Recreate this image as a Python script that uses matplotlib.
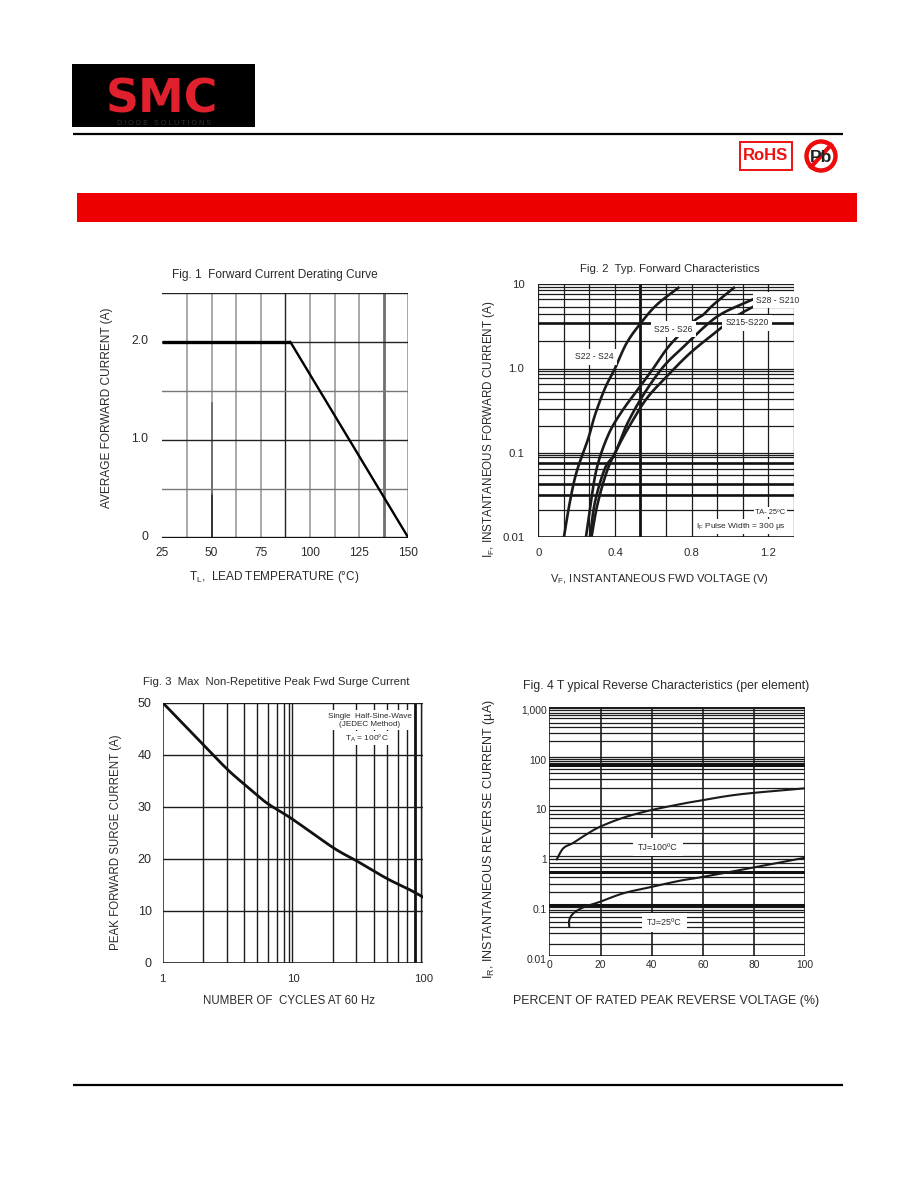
import numpy as np
import matplotlib
matplotlib.use("Agg")
import matplotlib.pyplot as plt
from matplotlib.patches import Rectangle, Circle
from matplotlib.transforms import ScaledTranslation
import logging
logging.getLogger('matplotlib.font_manager').setLevel(logging.ERROR)

plt.rcParams['font.family'] = ['Liberation Sans', 'DejaVu Sans']
plt.rcParams['mathtext.fontset'] = 'custom'
plt.rcParams['mathtext.rm'] = 'Liberation Sans'
plt.rcParams['mathtext.default'] = 'regular'

W, H = 918, 1188
INK = '#2a2a2a'

# ---- Fig 1 data
f1_temp = [25, 90, 150]
f1_current = [2.0, 2.0, 0.0]
f1_xticks = [25, 50, 75, 100, 125, 150]
f1_xlabels = ['25', '50', '75', '100', '125', '150']
f1_yticks = [0, 1.0, 2.0]
f1_ylabels = ['0', '1.0', '2.0']
f1_vgrid_gray = [37.5, 50, 62.5, 75, 100, 112.5, 125, 150]
f1_vgrid_dark = [87.5]
f1_hgrid_dark = [1.0, 2.0, 2.5]
f1_hgrid_gray = [0.5, 1.5]

# ---- Fig 2 data
f2_v_a = [0.134, 0.165, 0.200, 0.261, 0.296, 0.348, 0.400, 0.461, 0.534, 0.618, 0.731]
f2_i_a = [0.01, 0.026, 0.059, 0.148, 0.28, 0.58, 1.0, 2.0, 3.44, 5.7, 9.1]
f2_v_b = [0.249, 0.270, 0.305, 0.365, 0.435, 0.531, 0.600, 0.687, 0.809, 0.860, 0.913, 1.021]
f2_i_b = [0.01, 0.0217, 0.065, 0.162, 0.306, 0.61, 1.0, 1.9, 3.6, 4.33, 5.7, 9.1]
f2_v_c = [0.270, 0.296, 0.348, 0.400, 0.461, 0.548, 0.653, 0.757, 0.879, 0.964, 1.105, 1.192]
f2_i_c = [0.01, 0.026, 0.065, 0.0975, 0.213, 0.484, 1.05, 1.8, 3.3, 4.56, 6.4, 7.8]
f2_v_d = [0.278, 0.308, 0.357, 0.412, 0.479, 0.566, 0.670, 0.792, 0.931, 1.035, 1.192, 1.33]
f2_i_d = [0.01, 0.0238, 0.059, 0.112, 0.213, 0.44, 0.80, 1.52, 2.75, 4.2, 6.4, 7.7]
f2_xticks = [0, 0.4, 0.8, 1.2]
f2_yticks = [0.01, 0.1, 1.0, 10]
f2_ylabels = ['0.01', '0.1', '1.0', '10']
f2_vgrid = [0, 0.133, 0.267, 0.4, 0.667, 0.8, 0.933, 1.067, 1.2, 1.333]
f2_vgrid_thick = [0.533]
f2_hgrid = [0.021, 0.0541, 0.0642, 0.0882, 0.094, 0.098,
            0.208, 0.33, 0.43, 0.53, 0.65, 0.76, 0.85, 0.925, 0.975,
            2.1, 4.4, 5.42, 6.63, 7.6, 8.55, 9.36, 10]
f2_hgrid_thick = [0.0315, 0.0428, 0.0758, 3.5]

# ---- Fig 3 data
f3_cycles = [1, 2.05, 3.13, 4.23, 5.32, 6.47, 9.9, 20.4, 30.7, 52.4, 75, 100]
f3_current = [50, 41.9, 37.2, 34.3, 32.2, 30.5, 27.6, 22.1, 19.6, 16.2, 14.3, 12.6]
f3_xticks = [1, 10, 100]
f3_xlabels = ['1', '10', '100']
f3_yticks = [0, 10, 20, 30, 40, 50]
f3_vgrid = [2.05, 3.13, 4.23, 5.32, 6.47, 7.52, 8.6, 9.35, 9.9,
            20.4, 30.7, 41.8, 52.4, 63.4, 75, 96, 100]
f3_vgrid_thick = [86]
f3_hgrid = [10, 20, 30, 40, 50]

# ---- Fig 4 data
f4_pct_hot = [2.9, 5.5, 9.4, 14.6, 19.9, 28.9, 39, 51, 58.9, 74.5, 100]
f4_ir_hot = [0.86, 1.44, 1.85, 2.75, 3.9, 5.9, 8.2, 11, 13, 17.4, 23]
f4_pct_cold = [7.8, 7.8, 9.4, 13.3, 19.8, 28.9, 39, 51, 58.9, 74.5, 100]
f4_ir_cold = [0.038, 0.052, 0.0708, 0.0934, 0.121, 0.179, 0.235, 0.32, 0.374, 0.525, 0.93]
f4_xticks = [0, 20, 40, 60, 80, 100]
f4_yticks = [0.01, 0.1, 1, 10, 100, 1000]
f4_ylabels = ['0.01', '0.1', '1', '10', '100', '1,000']
f4_vgrid = [0, 20, 40, 60, 80, 100]
f4_hgrid = [1000, 929, 858, 758, 681, 585, 477, 386, 292, 205,
            99, 90, 82.4, 75, 56.9, 46, 34.8, 23,
            10.1, 8.43, 7.1, 5.74, 3.89, 2.87, 1.81,
            1.0, 0.863, 0.736, 0.612, 0.375, 0.272, 0.188,
            0.0934, 0.0828, 0.0745, 0.0607, 0.0482, 0.0372, 0.0282, 0.0169]
f4_hgrid_thick = [0.104, 0.48, 66.6]

fig = plt.figure(figsize=(W / 100, H / 100), dpi=100, facecolor='white')


def make_axes(x0, y0, x1, y1):
    ax = fig.add_axes([x0 / W, 1 - y1 / H, (x1 - x0) / W, (y1 - y0) / H])
    for s in ax.spines.values():
        s.set_visible(False)
    ax.tick_params(length=0, labelsize=8.2, labelcolor=INK)
    return ax


def page_text(x, y, s, size=8.6, rot=0, ha='center', weight='normal', color=INK):
    fig.text(x / W, 1 - y / H, s, fontsize=size, rotation=rot, ha=ha, va='center',
             color=color, fontweight=weight)


def smooth(x, y, logx=False, logy=False, n=12):
    """Rendering only: round the polyline through the read points (Catmull-Rom)."""
    px = np.log10(x) if logx else np.asarray(x, float)
    py = np.log10(y) if logy else np.asarray(y, float)
    p = np.column_stack([px, py])
    p = np.vstack([2 * p[0] - p[1], p, 2 * p[-1] - p[-2]])
    out = []
    t = np.linspace(0, 1, n, endpoint=False)[:, None]
    for i in range(1, len(p) - 2):
        a, b, c, d = p[i - 1], p[i], p[i + 1], p[i + 2]
        out.append(0.5 * (2 * b + (c - a) * t + (2 * a - 5 * b + 4 * c - d) * t ** 2
                          + (3 * b - a - 3 * c + d) * t ** 3))
    out.append(p[-2][None, :])
    out = np.vstack(out)
    sx = 10 ** out[:, 0] if logx else out[:, 0]
    sy = 10 ** out[:, 1] if logy else out[:, 1]
    return sx, sy


# ---- Page furniture
page = fig.add_axes([0, 0, 1, 1], zorder=-5)
page.set_xlim(0, W)
page.set_ylim(H, 0)
page.axis('off')
page.add_patch(Rectangle((72, 64), 183, 63, fc='black', ec='none'))
page.text(162, 100, 'SMC', color='#e0202c', fontsize=33, fontweight='bold', ha='center',
          va='center', family='DejaVu Sans')
page.text(164, 123.5, 'D I O D E   S O L U T I O N S', color='#333333', fontsize=5.2,
          ha='center', va='center')
page.plot([73, 843], [134, 134], color='black', lw=1.6, solid_capstyle='butt')
page.plot([73, 843], [1085, 1085], color='black', lw=1.6, solid_capstyle='butt')
page.add_patch(Rectangle((77, 193), 780, 29, fc='#ee0000', ec='none'))
page.add_patch(Rectangle((739.5, 141.5), 52, 28, fc='white', ec='#ee1111', lw=1.4))
page.text(765.5, 156, 'RoHS', color='#ee1111', fontsize=12, fontweight='bold',
          ha='center', va='center', family=['Liberation Sans Narrow', 'Liberation Sans'])
page.add_patch(Circle((821, 156), 14.5, fc='white', ec='#ee0b0b', lw=3.2))
page.text(821, 157, 'Pb', color='#222222', fontsize=12.5, fontweight='bold', ha='center', va='center')
page.plot([811, 831], [167, 145], color='#ee0b0b', lw=3)

# ---- Fig 1
ax = make_axes(162.3, 292.7, 408.3, 537.7)
ax.set_xlim(25, 150)
ax.set_ylim(0, 2.5)
for x in f1_vgrid_gray:
    ax.axvline(x, color='#9a9a9a', lw=1.2)
ax.axvline(50, ymin=0, ymax=0.18, color='#222222', lw=1.2)
ax.axvline(50, ymin=0.18, ymax=0.55, color='#666666', lw=1.2)
ax.axvline(137.5, color='#707070', lw=2)
for x in f1_vgrid_dark:
    ax.axvline(x, color='#222222', lw=1)
for y in f1_hgrid_dark:
    ax.axhline(y, color='#222222', lw=1)
for y in f1_hgrid_gray:
    ax.axhline(y, color='#777777', lw=1)
ax.axhline(0, color='#111111', lw=2.4)
ax.plot(f1_temp[:2], f1_current[:2], color='black', lw=2.4, solid_capstyle='butt')
ax.plot(f1_temp[1:], f1_current[1:], color='black', lw=1.7, solid_capstyle='round')
ax.set_xticks(f1_xticks, f1_xlabels, fontsize=8.6)
ax.set_yticks(f1_yticks, f1_ylabels, fontsize=8.8)
ax.tick_params(axis='x', pad=7)
ax.tick_params(axis='y', pad=10)
for lab in ax.get_yticklabels():
    lab.set_transform(lab.get_transform() + ScaledTranslation(0, 2 / 100, fig.dpi_scale_trans))
page_text(275, 275, 'Fig. 1  Forward Current Derating Curve', size=8.6)
page_text(107, 408, 'AVERAGE FORWARD CURRENT (A)', size=8.6, rot=90)
page_text(274, 577, r'$T_L$,  LEAD TEMPERATURE (°C)', size=8.5)

# ---- Fig 2
ax = make_axes(538.3, 284.3, 793.7, 536.7)
ax.set_xlim(0, 1.333)
ax.set_ylim(0.01, 10)
ax.set_yscale('log')
ax.minorticks_off()
for x in f2_vgrid:
    ax.axvline(x, color='#1c1c1c', lw=0.9)
for x in f2_vgrid_thick:
    ax.axvline(x, color='#111111', lw=2)
for y in f2_hgrid:
    ax.axhline(y, color='#1c1c1c', lw=0.9)
for y in f2_hgrid_thick:
    ax.axhline(y, color='#111111', lw=1.9)
ax.axhline(0.01, color='#111111', lw=1.2)
for v, i in [(f2_v_a, f2_i_a), (f2_v_b, f2_i_b), (f2_v_c, f2_i_c), (f2_v_d, f2_i_d)]:
    ax.plot(*smooth(v, i, logy=True), color='#1a1a1a', lw=1.9, zorder=4)
ax.set_xticks(f2_xticks, ['0', '0.4', '0.8', '1.2'])
ax.set_yticks(f2_yticks, f2_ylabels)
ax.minorticks_off()
ax.tick_params(axis='x', pad=8)
ax.tick_params(axis='y', pad=10)
mask = dict(fc='white', ec='none', pad=2.4)
for x, y, s in [(0.29, 1.375, 'S22 - S24'), (0.705, 2.94, 'S25 - S26'),
                (1.09, 3.5, 'S215-S220'), (1.25, 6.5, 'S28 - S210')]:
    ax.text(x, y, s, fontsize=6.2, color=INK, ha='center', va='center', zorder=6, bbox=mask)
ax.text(1.29, 0.0195, 'TA- 25ºC', fontsize=5.4, color=INK, ha='right', va='center', zorder=6,
        bbox=dict(fc='white', ec='none', pad=1.2))
ax.text(1.29, 0.0132, r'$I_F$ Pulse Width = 300 µs', fontsize=6, color=INK, ha='right', va='center',
        zorder=6, bbox=dict(fc='white', ec='none', pad=1.2))
page_text(670, 269, 'Fig. 2  Typ. Forward Characteristics', size=8.2)
page_text(489, 429, r'$I_F$, INSTANTANEOUS FORWARD CURRENT (A)', size=8.4, rot=90)
page_text(660, 579, r'$V_F$, INSTANTANEOUS FWD VOLTAGE (V)', size=8.1)

# ---- Fig 3
ax = make_axes(162.7, 702.7, 423.3, 962.7)
ax.set_xscale('log')
ax.set_xlim(1, 100)
ax.set_ylim(0, 50)
ax.minorticks_off()
for x in f3_vgrid:
    ax.axvline(x, color='#1c1c1c', lw=1)
for x in f3_vgrid_thick:
    ax.axvline(x, color='#111111', lw=2)
for y in f3_hgrid:
    ax.axhline(y, color='#1c1c1c', lw=1)
ax.axhline(0, color='#1c1c1c', lw=1.2)
ax.axvline(1, color='#1c1c1c', lw=1.1)
ax.plot(*smooth(f3_cycles, f3_current, logx=True), color='#111111', lw=2, zorder=4)
ax.set_xticks(f3_xticks, f3_xlabels)
ax.set_yticks(f3_yticks)
ax.minorticks_off()
ax.tick_params(axis='x', pad=8)
ax.tick_params(axis='y', pad=8, labelsize=9)
ax.text(39, 46.6, 'Single  Half-Sine-Wave\n(JEDEC Method)', fontsize=5.9, color=INK, ha='center',
        va='center', zorder=6, linespacing=1.35, bbox=dict(fc='white', ec='none', pad=1.5))
ax.text(36.8, 43.2, r'$T_A$ = 100°C', fontsize=6, color=INK, ha='center', va='center', zorder=6,
        bbox=dict(fc='white', ec='none', pad=1.2))
page_text(276, 682, 'Fig. 3  Max  Non-Repetitive Peak Fwd Surge Current', size=8.2)
page_text(116, 842, 'PEAK FORWARD SURGE CURRENT (A)', size=8.3, rot=90)
page_text(289, 1001, 'NUMBER OF  CYCLES AT 60 Hz', size=8.3)

# ---- Fig 4
ax = make_axes(549.3, 706.7, 805.3, 955.7)
ax.set_yscale('log')
ax.set_xlim(0, 100)
ax.set_ylim(0.01, 1000)
ax.minorticks_off()
for x in f4_vgrid:
    ax.axvline(x, color='#1c1c1c', lw=1.2)
for y in f4_hgrid:
    ax.axhline(y, color='#1c1c1c', lw=0.9)
for y in f4_hgrid_thick:
    ax.axhline(y, color='#111111', lw=2.2)
ax.axhline(0.01, color='#111111', lw=1.2)
ax.plot(*smooth(f4_pct_hot, f4_ir_hot, logy=True), color='#1a1a1a', lw=1.5, zorder=4)
ax.plot(*smooth(f4_pct_cold, f4_ir_cold, logy=True), color='#1a1a1a', lw=1.5, zorder=4)
ax.set_xticks(f4_xticks, ['0', '20', '40', '60', '80', '100'])
ax.set_yticks(f4_yticks, f4_ylabels)
ax.minorticks_off()
ax.tick_params(axis='x', pad=3, labelsize=7.4)
ax.tick_params(axis='y', pad=2, labelsize=7.4)
for lab in ax.get_yticklabels():
    lab.set_transform(lab.get_transform() + ScaledTranslation(0, -3 / 100, fig.dpi_scale_trans))
ax.text(42.5, 1.52, 'TJ=100ºC', fontsize=6.4, color=INK, ha='center', va='center', zorder=6,
        bbox=dict(fc='white', ec='none', pad=3.5))
ax.text(45, 0.0465, 'TJ=25ºC', fontsize=6.4, color=INK, ha='center', va='center', zorder=6,
        bbox=dict(fc='white', ec='none', pad=3.5))
page_text(666, 686, 'Fig. 4 T ypical Reverse Characteristics (per element)', size=8.8)
page_text(489, 839, r'$I_R$, INSTANTANEOUS REVERSE CURRENT (µA)', size=9, rot=90)
page_text(666, 1001, 'PERCENT OF RATED PEAK REVERSE VOLTAGE (%)', size=8.9)

fig.savefig('out.png', dpi=100)
